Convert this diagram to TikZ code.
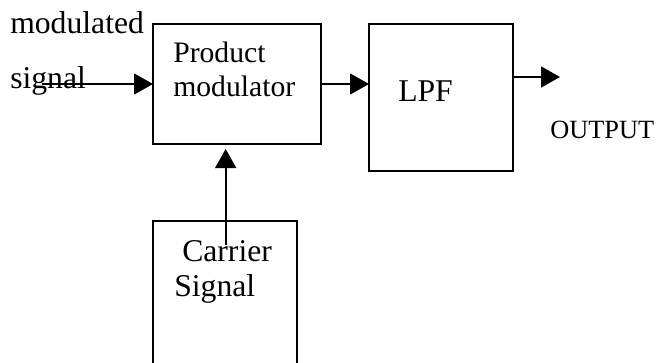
\documentclass[tikz,border=0pt]{standalone}
\usepackage{fontspec}
\setmainfont{Liberation Serif}
\usetikzlibrary{arrows.meta}
\begin{document}
\begin{tikzpicture}[x=0.75pt,y=-0.75pt,
  blk/.style={draw,line width=1.2pt,inner sep=0,outer sep=0},
  lbl/.style={anchor=base west,inner sep=0,font=\fontsize{23.75}{28}\selectfont},
  lblsm/.style={anchor=base west,inner sep=0,font=\fontsize{22.25}{26}\selectfont},
  lblxs/.style={anchor=base west,inner sep=0,font=\fontsize{19.75}{23}\selectfont},
  arr/.style={line width=1.2pt,-{Triangle[length=14.25pt,width=15.75pt]}}]
\useasboundingbox (0,0) rectangle (657,362);
\clip (0,0) rectangle (657,362);
\node[blk,minimum width=126pt,minimum height=90pt] (pm) at (237,84) {};
\node[blk,minimum width=108pt,minimum height=110.25pt] (lpf) at (441,97.5) {};
\node[blk,minimum width=108pt,minimum height=150pt] (car) at (225,321) {};
\node[lbl] (t1) at (10,33) {modulated};
\node[lbl] (t2) at (10,88) {signal};
\node[lblsm] (t3) at (173,62) {Product};
\node[lblsm] (t4) at (173,96) {modulator};
\node[lbl] (t5) at (398,101) {LPF};
\node[lblxs] (t6) at (550,138) {OUTPUT};
\node[lbl] (t7) at (182,261) {Carrier};
\node[lbl] (t8) at (174,296) {Signal};
\coordinate (inp) at (42,84);
\coordinate (outp) at (560,77);
\coordinate (cst) at (225.7,245);
\draw[arr] (inp) -- (inp -| pm.west);
\draw[arr] (pm.east) -- (pm.east -| lpf.west);
\draw[arr] (outp -| lpf.east) -- (outp);
\draw[arr,shorten >=3.75pt] (cst) -- (cst |- pm.south);
\end{tikzpicture}
\end{document}
